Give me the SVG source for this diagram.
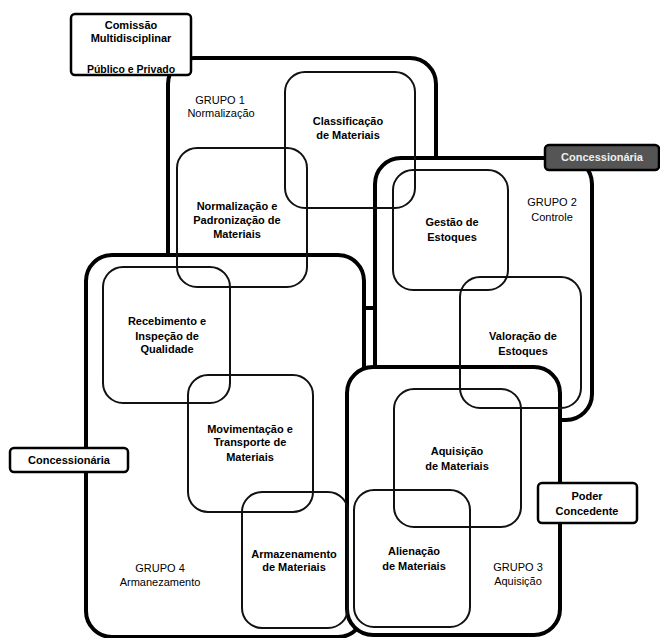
<svg xmlns="http://www.w3.org/2000/svg" width="660" height="638" viewBox="0 0 660 638">
<style>
.grp{fill:#fff;stroke:#000;stroke-width:4}
.box{fill:none;stroke:#111;stroke-width:2}
.lbl{fill:#fff;stroke:#000;stroke-width:2.5}
text{font-family:"Liberation Sans",Arial,sans-serif;font-size:11px;text-anchor:middle;fill:#000}
.b{font-weight:bold}
.g{font-size:11px}
</style>
<rect width="660" height="638" fill="#fff"/>
<g id="connectors">
<line x1="362" y1="308" x2="377" y2="308" stroke="#000" stroke-width="3"/>
</g>
<g id="grupo1">
<rect class="grp" x="168" y="58" width="268" height="250" rx="26"/>
<text class="g" x="220" y="104">GRUPO 1</text>
<text class="g" x="221" y="117">Normalização</text>
</g>
<g id="grupo2">
<rect class="grp" x="375" y="158" width="217" height="262" rx="26"/>
<text class="g" x="552" y="206">GRUPO 2</text>
<text class="g" x="552" y="221">Controle</text>
</g>
<g id="grupo4">
<rect class="grp" x="86" y="255" width="278" height="382" rx="26"/>
<text class="g" x="160" y="572">GRUPO 4</text>
<text class="g" x="160" y="586">Armanezamento</text>
</g>
<g id="grupo3">
<rect class="grp" x="347" y="367" width="213" height="268" rx="26"/>
<text class="g" x="518" y="571">GRUPO 3</text>
<text class="g" x="518" y="585">Aquisição</text>
</g>
<g id="classificacao">
<rect class="box" x="285" y="72" width="130" height="136" rx="20"/>
<text class="b" x="348" y="125">Classificação</text>
<text class="b" x="348" y="139">de Materiais</text>
</g>
<g id="normalizacao">
<rect class="box" x="177" y="148" width="130" height="139" rx="20"/>
<text class="b" x="237" y="210">Normalização e</text>
<text class="b" x="237" y="224">Padronização de</text>
<text class="b" x="237" y="238">Materiais</text>
</g>
<g id="gestao">
<rect class="box" x="393" y="170" width="115" height="120" rx="20"/>
<text class="b" x="452" y="226">Gestão de</text>
<text class="b" x="452" y="241">Estoques</text>
</g>
<g id="valoracao">
<rect class="box" x="460" y="277" width="121" height="131" rx="20"/>
<text class="b" x="523" y="340">Valoração de</text>
<text class="b" x="523" y="355">Estoques</text>
</g>
<g id="recebimento">
<rect class="box" x="103" y="267" width="127" height="136" rx="20"/>
<text class="b" x="167" y="325">Recebimento e</text>
<text class="b" x="167" y="340">Inspeção de</text>
<text class="b" x="167" y="353">Qualidade</text>
</g>
<g id="movimentacao">
<rect class="box" x="188" y="375" width="125" height="137" rx="20"/>
<text class="b" x="250" y="433">Movimentação e</text>
<text class="b" x="250" y="446">Transporte de</text>
<text class="b" x="250" y="461">Materiais</text>
</g>
<g id="armazenamento">
<rect class="box" x="242" y="492" width="106" height="136" rx="20"/>
<text class="b" x="294" y="558">Armazenamento</text>
<text class="b" x="294" y="571">de Materiais</text>
</g>
<g id="aquisicao">
<rect class="box" x="394" y="389" width="127" height="138" rx="20"/>
<text class="b" x="457" y="455">Aquisição</text>
<text class="b" x="457" y="470">de Materiais</text>
</g>
<g id="alienacao">
<rect class="box" x="354" y="490" width="116" height="137" rx="20"/>
<text class="b" x="414" y="555">Alienação</text>
<text class="b" x="414" y="570">de Materiais</text>
</g>
<g id="comissao">
<rect class="lbl" x="71" y="14" width="120" height="61" rx="4"/>
<text class="b" x="131" y="29">Comissão</text>
<text class="b" x="131" y="42">Multidisciplinar</text>
<text class="b" x="131" y="73" style="font-size:10.5px">Público e Privado</text>
</g>
<g id="concessionaria-top">
<rect x="545" y="145" width="114" height="25" rx="4" fill="#555" stroke="#000" stroke-width="2.5"/>
<text class="b" x="602" y="161" style="fill:#eee">Concessionária</text>
</g>
<g id="concessionaria">
<rect class="lbl" x="10" y="448" width="118" height="24" rx="4"/>
<text class="b" x="69" y="464">Concessionária</text>
</g>
<g id="poder">
<rect class="lbl" x="538" y="483" width="99" height="40" rx="4"/>
<text class="b" x="587" y="500">Poder</text>
<text class="b" x="587" y="515">Concedente</text>
</g>
</svg>
